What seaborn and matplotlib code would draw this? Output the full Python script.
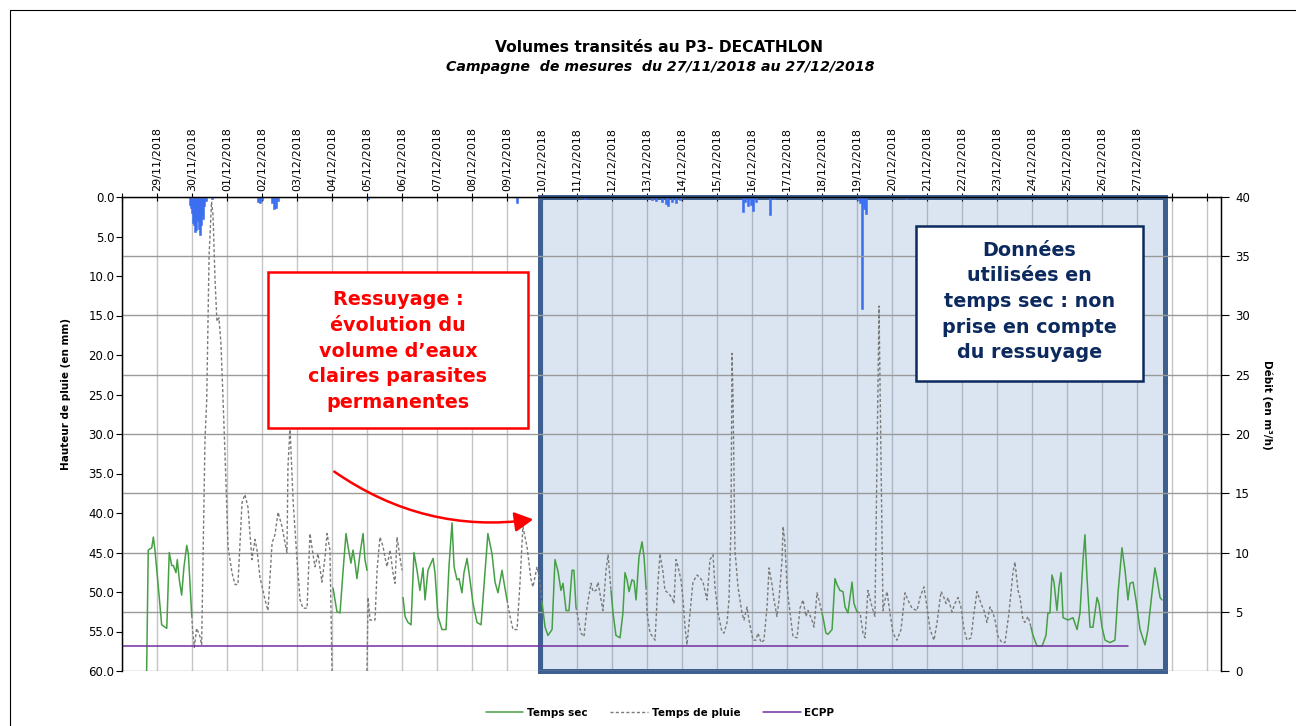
import numpy as np
import pandas as pd
import matplotlib
matplotlib.use("Agg")
import matplotlib.pyplot as plt
from matplotlib.patches import Rectangle, FancyArrowPatch
from matplotlib.lines import Line2D
import seaborn as sns

# ---------------- DATA (hours since 28/11/2018 00:00) ----------------
T0 = pd.Timestamp("2018-11-28 00:00")

# rainfall (mm) : (hour, mm)
pluie_mm = [(46.6, 1.0), (47.3, 1.4), (48.0, 2.0), (48.7, 3.3), (49.4, 3.5), (50.1, 4.4),
            (50.7, 4.2), (51.4, 2.6), (52.1, 3.0), (52.8, 4.0), (53.5, 4.8), (54.2, 3.5),
            (54.9, 2.0), (55.5, 2.8), (56.2, 1.2), (57.6, 0.5), (61.7, 0.3),
            (93.3, 0.6), (94.6, 0.8), (96.0, 0.4), (102.9, 0.8), (104.2, 1.5), (105.6, 1.4),
            (107.0, 0.5), (169.3, 0.3), (270.9, 0.8), (317.5, 0.3),
            (363.4, 0.4), (366.2, 0.5), (370.3, 0.6), (373.0, 0.9), (374.4, 1.2), (377.1, 0.6),
            (379.9, 0.8), (382.6, 0.4), (425.8, 1.9), (427.2, 0.6), (429.3, 1.2), (431.3, 1.0),
            (432.7, 1.8), (434.7, 0.6), (444.3, 2.3), (447.1, 0.3),
            (504.7, 0.4), (506.1, 0.8), (507.4, 14.2), (508.8, 1.5), (510.2, 2.2), (537.6, 0.2)]

# Temps sec (m3/h) : segments of (hour, flow)
sec_28_29nov = [(16.9, 0.0), (18.0, 10.2), (20.4, 10.4), (21.5, 11.3), (22.6, 10.2), (24.9, 7.1),
                (27.2, 3.9), (29.5, 3.7), (30.7, 3.6), (32.4, 10.0), (34.1, 8.9), (35.2, 8.9),
                (37.0, 8.3), (37.9, 9.4), (39.3, 7.7), (40.9, 6.4), (42.5, 8.8), (44.4, 10.6),
                (45.5, 9.9), (47.8, 4.7)]
sec_04dec = [(144.7, 7.0), (147.4, 5.0), (149.5, 4.9), (151.5, 8.3), (153.6, 11.6), (155.0, 10.5),
             (157.0, 9.1), (158.4, 10.2), (159.8, 9.1), (161.1, 7.8), (163.2, 9.9), (165.3, 11.6),
             (166.6, 9.4), (168.0, 8.5)]
sec_06_08dec = [(192.7, 6.2), (194.1, 4.6), (196.1, 4.1), (198.2, 3.9), (200.2, 10.0), (202.3, 8.5),
                (204.3, 6.8), (206.4, 8.7), (207.8, 6.0), (209.8, 8.5), (213.3, 9.5), (214.6, 8.3),
                (216.7, 4.6), (219.4, 3.5), (222.2, 3.5), (224.2, 8.8), (226.3, 12.5), (227.7, 8.8),
                (229.7, 7.7), (231.1, 7.8), (233.1, 6.6), (234.5, 8.3), (236.6, 9.5), (238.6, 7.7),
                (240.7, 5.7), (243.4, 4.1), (246.2, 3.9), (247.5, 6.0), (250.9, 11.6), (253.7, 9.9),
                (255.8, 7.5), (257.8, 6.6), (260.6, 8.5), (261.9, 7.5), (264.0, 6.0)]
sec_10dec = [(288.0, 5.8), (290.1, 3.7), (292.1, 3.0), (294.9, 3.5), (296.9, 9.4), (299.0, 8.4),
             (301.0, 6.8), (302.4, 7.4), (304.5, 5.1), (306.5, 5.1), (308.6, 8.5), (309.9, 8.5),
             (311.3, 5.4)]
sec_12dec = [(335.3, 6.8), (336.7, 4.9), (338.7, 3.0), (341.5, 2.8), (343.5, 4.9), (344.9, 8.3),
             (346.3, 7.7), (347.7, 6.7), (349.7, 7.7), (351.1, 7.6), (352.5, 6.0), (354.5, 9.6),
             (356.6, 10.9), (358.0, 9.6), (359.3, 7.1)]
sec_18dec = [(480.0, 4.9), (480.7, 4.5), (482.7, 3.2), (484.1, 3.1), (486.9, 3.5), (488.9, 7.8),
             (490.3, 7.3), (492.3, 6.8), (494.4, 6.7), (495.8, 5.4), (497.8, 4.9), (500.6, 7.5),
             (501.9, 5.7), (504.0, 5.0)]
sec_24_27dec = [(623.3, 3.7), (624.7, 3.0), (627.4, 2.1), (630.9, 2.1), (633.6, 3.0), (634.9, 4.9),
                (636.3, 4.9), (637.7, 8.1), (639.1, 7.5), (641.1, 5.1), (642.5, 7.1), (643.9, 8.3),
                (645.3, 4.5), (648.7, 4.3), (652.1, 4.5), (654.9, 3.5), (656.9, 4.9), (659.0, 9.4),
                (660.3, 11.5), (661.7, 7.9), (663.8, 3.7), (665.8, 3.7), (668.6, 6.2), (669.9, 5.7),
                (672.0, 3.7), (674.1, 2.6), (677.5, 2.4), (680.9, 2.6), (683.0, 6.6), (685.7, 10.4),
                (687.8, 8.5), (689.8, 6.0), (691.2, 7.4), (693.3, 7.5), (695.3, 6.0), (698.1, 3.5),
                (701.5, 2.2), (703.5, 3.5), (706.3, 6.6), (708.3, 8.7), (709.7, 7.8), (711.8, 6.2),
                (713.1, 6.0)]

# Temps de pluie (m3/h)
pluie_30nov_03dec = [(47.8, 4.7), (48.4, 3.5), (49.6, 2.0), (51.2, 3.6), (53.5, 2.9), (54.6, 2.2),
                     (56.9, 19.5), (58.1, 22.9), (59.7, 35.0), (61.4, 39.6), (62.4, 38.5), (63.8, 33.0),
                     (65.1, 29.5), (66.5, 29.8), (67.9, 27.5), (69.3, 22.9), (71.3, 15.9), (72.7, 10.5),
                     (75.4, 8.3), (77.5, 7.3), (79.5, 7.3), (82.3, 14.2), (84.3, 14.9), (86.4, 13.8),
                     (89.1, 9.4), (91.2, 11.1), (92.6, 10.2), (94.6, 7.9), (98.1, 6.0), (100.1, 5.1),
                     (102.9, 10.8), (104.9, 11.5), (107.0, 13.4), (109.7, 12.2), (111.8, 10.8),
                     (113.1, 10.0), (113.8, 17.2), (115.2, 20.6), (117.3, 14.4), (120.0, 9.4),
                     (122.1, 6.0), (124.1, 5.3), (126.9, 5.3), (128.9, 11.6), (130.9, 9.9), (132.3, 8.8),
                     (134.4, 9.9), (137.1, 7.5), (139.2, 9.6), (140.6, 11.6), (142.6, 10.2), (144.0, 0.0)]
pluie_05dec = [(168.0, 0.0), (168.7, 6.2), (170.1, 4.3), (173.5, 4.3), (174.9, 8.5), (176.9, 11.3),
               (179.0, 10.5), (180.3, 9.6), (181.7, 8.8), (183.8, 10.2), (185.8, 8.3), (187.2, 7.4),
               (188.6, 11.3), (190.6, 9.6), (192.0, 8.5)]
pluie_09dec = [(264.0, 6.0), (266.1, 4.6), (268.1, 3.5), (270.9, 3.5), (272.9, 7.4), (274.9, 12.2),
               (277.7, 10.5), (280.5, 7.7), (281.8, 7.1), (284.6, 8.8), (286.6, 7.5), (288.0, 5.8)]
pluie_11dec = [(311.3, 5.4), (312.0, 4.9), (314.7, 3.2), (316.8, 2.9), (318.9, 5.4), (321.6, 7.4),
               (323.0, 6.7), (325.0, 6.8), (326.4, 7.5), (328.5, 6.0), (329.8, 5.1), (331.9, 8.5),
               (333.3, 9.8), (335.3, 6.8)]
pluie_13_17dec = [(359.3, 7.1), (360.0, 4.9), (362.1, 3.2), (365.5, 2.6), (367.5, 7.4), (368.9, 9.9),
                  (371.0, 8.3), (372.3, 6.8), (374.4, 6.6), (377.1, 6.2), (378.5, 5.7), (379.9, 9.4),
                  (381.3, 8.8), (383.3, 7.7), (384.7, 6.0), (386.1, 3.7), (387.4, 2.2), (389.5, 4.9),
                  (391.5, 7.5), (394.3, 8.1), (396.3, 7.9), (398.4, 7.5), (401.1, 6.0), (403.2, 9.4),
                  (405.3, 9.8), (406.6, 7.1), (408.7, 4.9), (411.4, 3.3), (412.8, 3.2), (414.9, 4.1),
                  (416.2, 6.0), (417.6, 12.2), (418.3, 26.8), (419.0, 22.9), (420.3, 10.2), (422.4, 7.1),
                  (425.1, 4.9), (426.5, 4.3), (428.6, 5.4), (429.9, 4.3), (432.7, 2.6), (434.7, 2.6),
                  (436.1, 3.2), (438.2, 2.4), (440.2, 2.6), (442.3, 5.4), (443.7, 8.7), (445.7, 7.3),
                  (447.1, 6.0), (449.1, 4.6), (450.5, 6.0), (452.6, 9.4), (453.3, 12.2), (454.6, 10.8),
                  (456.0, 7.1), (458.1, 4.9), (460.1, 2.9), (462.9, 2.8), (464.9, 5.3), (467.0, 6.0),
                  (469.0, 4.6), (470.4, 5.1), (473.1, 4.3), (474.5, 3.7), (476.6, 6.6), (477.9, 6.0),
                  (480.0, 4.9)]
pluie_19_23dec = [(504.0, 5.0), (506.1, 4.9), (508.1, 3.2), (509.5, 2.8), (511.5, 6.8), (514.3, 5.4),
                  (516.3, 4.6), (519.1, 30.8), (521.8, 5.1), (523.2, 6.0), (524.6, 6.7), (526.6, 4.9),
                  (528.7, 3.2), (531.4, 2.6), (534.2, 3.5), (536.9, 6.6), (538.9, 6.0), (541.7, 5.3),
                  (545.1, 5.1), (547.2, 6.2), (549.9, 7.1), (552.0, 5.4), (554.1, 3.5), (556.8, 2.6),
                  (558.9, 4.1), (561.6, 6.7), (563.0, 6.4), (565.0, 5.7), (566.4, 6.2), (569.1, 5.0),
                  (571.2, 5.7), (573.3, 6.2), (575.3, 5.4), (577.4, 3.5), (579.4, 2.6), (582.2, 2.8),
                  (584.2, 4.9), (586.3, 6.7), (589.0, 5.7), (591.1, 5.1), (593.1, 4.1), (595.2, 5.4),
                  (597.3, 4.9), (598.6, 4.3), (600.7, 2.9), (603.4, 2.4), (605.5, 2.4), (608.2, 4.9),
                  (610.9, 8.3), (612.3, 9.2), (614.4, 6.8), (615.8, 6.2), (617.8, 4.3), (619.2, 4.1),
                  (621.3, 4.6), (623.3, 3.7)]

# ECPP
ecpp_valeur = 2.15
ecpp_heures = [0.0, 689.8]

# date tick labels (top axis), one per day from 28/11 to 29/12
jours = pd.date_range("2018-11-28", "2018-12-29", freq="D")
etiquettes = ["" if (d.day == 28 and d.month == 11) or (d.month == 12 and d.day >= 28)
              else d.strftime("%d/%m/%Y") for d in jours]

legende = ["Temps sec", "Temps de pluie", "ECPP"]
titre = "Volumes transités au P3- DECATHLON"
sous_titre = "Campagne  de mesures  du 27/11/2018 au 27/12/2018"
texte_rouge = "Ressuyage :\névolution du\nvolume d\u2019eaux\nclaires parasites\npermanentes"
texte_bleu = "Données\nutilisées en\ntemps sec : non\nprise en compte\ndu ressuyage"

# ---------------- STYLE ----------------
VERT = "#45a045"
GRIS = "#7a7a7a"
VIOLET = "#7030a0"
BLEU = "#3c6ef0"

sns.set_theme(style="white")
plt.rcParams["font.family"] = ["DejaVu Sans"]
plt.rcParams["text.color"] = "black"
plt.rcParams["axes.labelcolor"] = "black"
plt.rcParams["xtick.color"] = "black"
plt.rcParams["ytick.color"] = "black"

W, H = 1296, 726


def fx(px):
    return px / W


def fy(py):
    return 1 - py / H


def seg_df(segments):
    rows = []
    for k, seg in enumerate(segments):
        for h, q in seg:
            rows.append((T0 + pd.Timedelta(hours=h), q, k))
    return pd.DataFrame(rows, columns=["t", "q", "seg"])


df_sec = seg_df([sec_28_29nov, sec_04dec, sec_06_08dec, sec_10dec, sec_12dec, sec_18dec, sec_24_27dec])
df_pluie = seg_df([pluie_30nov_03dec, pluie_05dec, pluie_09dec, pluie_11dec, pluie_13_17dec, pluie_19_23dec])
df_ecpp = pd.DataFrame({"t": [T0 + pd.Timedelta(hours=h) for h in ecpp_heures],
                        "q": [ecpp_valeur] * len(ecpp_heures)})
df_rain = pd.DataFrame({"t": [T0 + pd.Timedelta(hours=h) for h, _ in pluie_mm],
                        "mm": [m for _, m in pluie_mm]})

fig = plt.figure(figsize=(W / 100, H / 100), dpi=100)
ax = fig.add_axes([fx(122), fy(671), fx(1221) - fx(122), fy(197) - fy(671)])
ax2 = ax.twinx()

# shaded zone (on bottom axis)
ax.axvspan(T0 + pd.Timedelta(hours=286.6), T0 + pd.Timedelta(hours=715.2),
           facecolor=(79 / 255, 129 / 255, 189 / 255, 0.2), edgecolor="#3d6090",
           linewidth=3.6, clip_on=False, zorder=1)

# rainfall bars
ax.bar(df_rain["t"], df_rain["mm"], width=0.8 / 24, color=BLEU, edgecolor=BLEU,
       linewidth=0.4, zorder=2)

ax.set_ylim(60, 0)
ax.set_yticks(np.arange(0, 61, 5))
ax.set_yticklabels([f"{v:.1f}" for v in np.arange(0, 61, 5)])

# flows
sns.lineplot(data=df_pluie, x="t", y="q", units="seg", estimator=None, sort=False,
             color=GRIS, linewidth=1.0, linestyle=(0, (2.2, 1.6)), ax=ax2, legend=False)
sns.lineplot(data=df_sec, x="t", y="q", units="seg", estimator=None, sort=False,
             color=VERT, linewidth=1.1, ax=ax2, legend=False)
sns.lineplot(data=df_ecpp, x="t", y="q", estimator=None, sort=False,
             color=VIOLET, linewidth=1.1, ax=ax2, legend=False)
ax2.set_ylim(0, 40)
ax2.set_yticks(np.arange(0, 41, 5))
ax2.set_xlabel("")
ax2.set_ylabel("")
ax.set_xlabel("")
ax.set_ylabel("")

# x axis on top
ax.set_xlim(T0, T0 + pd.Timedelta(hours=753.6))
ax.xaxis.tick_top()
ax.set_xticks(jours)
ax.set_xticklabels(etiquettes, rotation=90, fontsize=8)
ax.tick_params(axis="x", top=True, bottom=False, direction="inout", length=6, width=0.8,
               color="black", pad=1, labelcolor="black")
ax.tick_params(axis="y", left=True, direction="out", length=4, width=0.8, color="black",
               labelsize=8.5, pad=1.5, labelcolor="black")
ax2.tick_params(axis="y", right=True, direction="out", length=6, width=0.8, color="black",
                labelsize=8.5, pad=4, labelcolor="black")

# grids
ax.grid(axis="x", color="#c4c4c4", linewidth=1.0)
ax.grid(axis="y", visible=False)
ax2.grid(axis="y", color="#9a9a9a", linewidth=1.0)
ax.set_axisbelow(True)
ax2.set_axisbelow(True)

for a in (ax, ax2):
    a.spines["bottom"].set_visible(False)
    for s in ("top", "left", "right"):
        a.spines[s].set_color("black")
        a.spines[s].set_linewidth(0.9)

# titles
fig.text(fx(659), fy(47.5), titre, ha="center", va="center", fontsize=11.2, fontweight="bold",
         color="black")
fig.text(fx(660), fy(67.5), sous_titre, ha="center", va="center", fontsize=10.2,
         fontweight="bold", fontstyle="italic", color="black")

# axis titles
fig.text(fx(66), fy(394), "Hauteur de pluie (en mm)", rotation=90, ha="center", va="center",
         fontsize=7.5, fontweight="bold", color="black")
fig.text(fx(1267), fy(405), "Débit (en m³/h)", rotation=270, ha="center", va="center",
         fontsize=7.5, fontweight="bold", color="black")

# annotation boxes
fig.add_artist(Rectangle((fx(268), fy(428)), fx(528) - fx(268), fy(272) - fy(428),
                         transform=fig.transFigure, facecolor="white", edgecolor="#ff0000",
                         linewidth=1.8, zorder=10))
fig.text(fx(398), fy(351), texte_rouge, ha="center", va="center", color="#ff0000",
         fontsize=13.8, fontweight="bold", linespacing=1.45, zorder=11)

fig.add_artist(Rectangle((fx(916), fy(381)), fx(1143) - fx(916), fy(226) - fy(381),
                         transform=fig.transFigure, facecolor="white", edgecolor="#0c2a5e",
                         linewidth=1.8, zorder=10))
fig.text(fx(1029.5), fy(301.5), texte_bleu, ha="center", va="center", color="#0c2a5e",
         fontsize=13.8, fontweight="bold", linespacing=1.45, zorder=11)

# curved red arrow
fig.add_artist(FancyArrowPatch(posA=(fx(332), fy(470)), posB=(fx(536), fy(519)),
                               transform=fig.transFigure, connectionstyle="arc3,rad=0.2",
                               arrowstyle="-|>,head_length=0.75,head_width=0.4",
                               mutation_scale=15, color="#ff0000", linewidth=1.8, zorder=10))

# legend
handles = [Line2D([], [], color=VERT, linewidth=1.1),
           Line2D([], [], color=GRIS, linewidth=1.0, linestyle=(0, (2.2, 1.6))),
           Line2D([], [], color=VIOLET, linewidth=1.1)]
leg = fig.legend(handles, legende, loc="center", bbox_to_anchor=(fx(660), fy(713)), ncol=3,
                 frameon=False, prop={"size": 7.5, "weight": "bold"}, handlelength=3.6,
                 handletextpad=0.35, columnspacing=2.2)
for t in leg.get_texts():
    t.set_color("black")

# outer chart frame
fig.add_artist(Line2D([fx(10), fx(10)], [0, fy(10)], color="black", linewidth=0.8))
fig.add_artist(Line2D([fx(10), 1], [fy(10), fy(10)], color="black", linewidth=0.8))

fig.savefig("out.png", dpi=100)
